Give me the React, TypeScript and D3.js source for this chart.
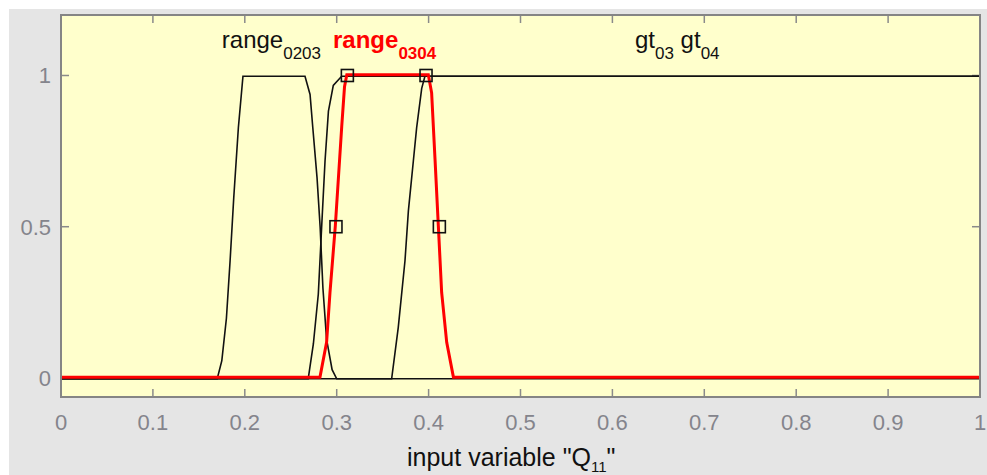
import React, { useEffect, useRef } from "react";
import * as d3 from "d3";

// membership curves
const range0203X = [0, 0.17, 0.175, 0.18, 0.184, 0.188, 0.193, 0.198, 0.2655, 0.271, 0.274, 0.2786, 0.282, 0.285, 0.289, 0.295, 0.3, 1];
const range0203Y = [0, 0, 0.06, 0.2, 0.39, 0.6, 0.83, 1, 1, 0.94, 0.83, 0.665, 0.5, 0.3, 0.13, 0.03, 0, 0];
const gt03X = [0, 0.269, 0.2746, 0.28, 0.2836, 0.2873, 0.291, 0.2963, 0.3054, 1];
const gt03Y = [0, 0, 0.115, 0.28, 0.5, 0.72, 0.885, 0.97, 1, 1];
const gt04X = [0, 0.3598, 0.367, 0.3743, 0.378, 0.3834, 0.387, 0.3925, 0.396, 1];
const gt04Y = [0, 0, 0.17, 0.39, 0.555, 0.72, 0.83, 0.96, 1, 1];
const range0304X = [0, 0.2818, 0.289, 0.2927, 0.2985, 0.302, 0.3055, 0.3085, 0.311, 0.3997, 0.4033, 0.407, 0.4106, 0.4142, 0.4197, 0.427, 1];
const range0304Y = [0, 0, 0.115, 0.28, 0.5, 0.665, 0.83, 0.96, 1, 1, 0.94, 0.72, 0.5, 0.28, 0.115, 0, 0];
const markerX = [0.2992, 0.3116, 0.3972, 0.4117];
const markerY = [0.5, 1, 1, 0.5];

const xTicks = [0, 0.1, 0.2, 0.3, 0.4, 0.5, 0.6, 0.7, 0.8, 0.9, 1];
const xTickLabels = ["0", "0.1", "0.2", "0.3", "0.4", "0.5", "0.6", "0.7", "0.8", "0.9", "1"];
const yTicks = [0, 0.5, 1];
const yTickLabels = ["0", "0.5", "1"];

const W = 987;
const H = 475;

export default function App() {
  const ref = useRef<SVGSVGElement>(null);

  useEffect(() => {
    if (!ref.current) return;
    const svg = d3.select(ref.current);
    svg.selectAll("*").remove();

    const left = 61, right = 980, top = 15, bottom = 397;
    const x = d3.scaleLinear().domain([0, 1]).range([left, right]);
    const y = d3.scaleLinear().domain([-0.063, 1.2]).range([bottom, top]);

    svg.append("rect").attr("width", W).attr("height", H).attr("fill", "#fff");
    svg.append("rect").attr("x", 9).attr("y", 9).attr("width", W - 9).attr("height", H - 9).attr("fill", "#e5e5e5");
    svg.append("rect").attr("x", left).attr("y", top).attr("width", right - left).attr("height", bottom - top).attr("fill", "#ffffcc");

    const tickCol = "#8a8a8a";
    const tl = 8;
    const g = svg.append("g");
    xTicks.forEach((t) => {
      g.append("line").attr("x1", x(t)).attr("x2", x(t)).attr("y1", bottom).attr("y2", bottom - tl).attr("stroke", tickCol).attr("stroke-width", 1.5);
      g.append("line").attr("x1", x(t)).attr("x2", x(t)).attr("y1", top).attr("y2", top + tl).attr("stroke", tickCol).attr("stroke-width", 1.5);
    });
    yTicks.forEach((t) => {
      g.append("line").attr("x1", left).attr("x2", left + tl).attr("y1", y(t)).attr("y2", y(t)).attr("stroke", tickCol).attr("stroke-width", 1.5);
      g.append("line").attr("x1", right).attr("x2", right - tl).attr("y1", y(t)).attr("y2", y(t)).attr("stroke", tickCol).attr("stroke-width", 1.5);
    });

    const line = d3.line<[number, number]>().x((d) => x(d[0])).y((d) => y(d[1]));
    const pts = (xs: number[], ys: number[]) => xs.map((v, i) => [v, ys[i]] as [number, number]);

    [pts(range0203X, range0203Y), pts(gt03X, gt03Y), pts(gt04X, gt04Y)].forEach((p) => {
      svg.append("path").attr("d", line(p)).attr("fill", "none").attr("stroke", "#111").attr("stroke-width", 1.6).attr("transform", "translate(0,0.8)");
    });
    svg.append("path").attr("d", line(pts(range0304X, range0304Y))).attr("fill", "none").attr("stroke", "#ff0000").attr("stroke-width", 3).attr("transform", "translate(0,-0.8)");

    markerX.forEach((mx, i) => {
      svg.append("rect").attr("x", x(mx) - 6).attr("y", y(markerY[i]) - 6).attr("width", 12).attr("height", 12)
        .attr("fill", "none").attr("stroke", "#111").attr("stroke-width", 1.6);
    });

    // frame
    svg.append("rect").attr("x", left).attr("y", top).attr("width", right - left).attr("height", bottom - top)
      .attr("fill", "none").attr("stroke", "#858585").attr("stroke-width", 2);

    const font = "'Liberation Sans', Arial, sans-serif";
    xTicks.forEach((t, i) => {
      svg.append("text").attr("x", x(t)).attr("y", 430).attr("text-anchor", "middle")
        .attr("font-family", font).attr("font-size", 22).attr("fill", "#84848c").text(xTickLabels[i]);
    });
    yTicks.forEach((t, i) => {
      svg.append("text").attr("x", left - 10).attr("y", y(t) + 8).attr("text-anchor", "end")
        .attr("font-family", font).attr("font-size", 22).attr("fill", "#84848c").text(yTickLabels[i]);
    });

    const label = (lx: number, parts: [string, string][], color: string, weight: string) => {
      const t = svg.append("text").attr("x", x(lx)).attr("y", 48).attr("font-family", font).attr("fill", color).attr("font-weight", weight);
      parts.forEach(([main, sub]) => {
        t.append("tspan").attr("font-size", 24).attr("dy", 0).text(main);
        t.append("tspan").attr("font-size", 17).attr("dy", 11).text(sub);
        t.append("tspan").attr("font-size", 24).attr("dy", -11).text(" ");
      });
    };
    label(0.175, [["range", "0203"]], "#111", "normal");
    label(0.296, [["range", "0304"]], "#ff0000", "bold");
    label(0.6246, [["gt", "03"], ["gt", "04"]], "#111", "normal");

    const xl = svg.append("text").attr("x", 407).attr("y", 466).attr("font-family", font).attr("font-size", 25).attr("fill", "#111");
    xl.append("tspan").text('input variable "Q');
    xl.append("tspan").attr("font-size", 15).attr("dy", 6).text("11");
    xl.append("tspan").attr("dy", -6).text('"');
  }, []);

  return (
    <div style={{ position: "absolute", left: 0, top: 0 }}>
      <svg ref={ref} width={W} height={H} style={{ display: "block" }} />
    </div>
  );
}
